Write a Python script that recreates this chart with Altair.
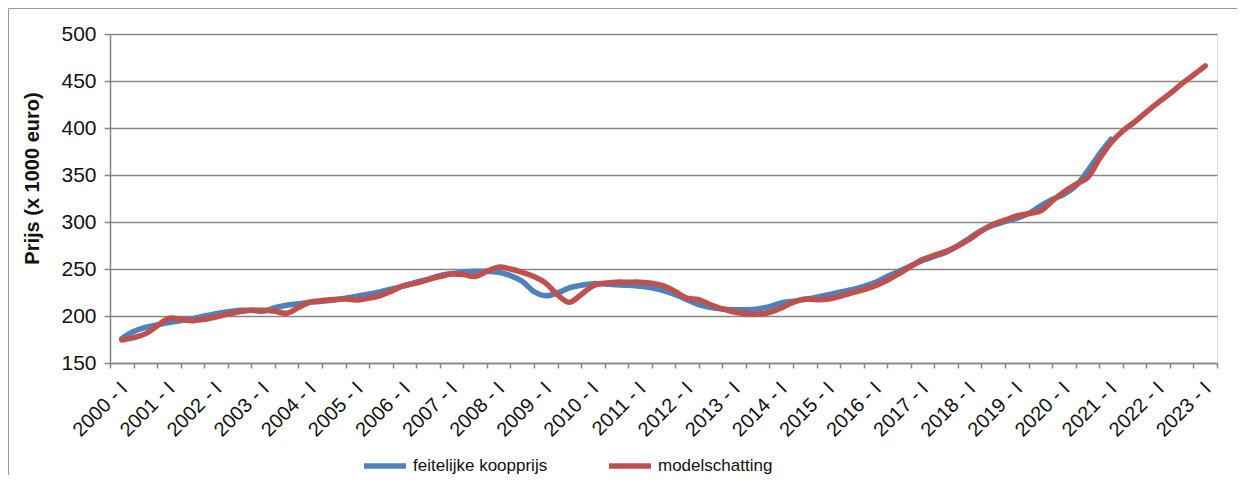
import altair as alt
import pandas as pd

# quarterly index 0 = 2000-I ... 92 = 2023-I
feitelijke = [176, 183.5, 188, 190.5, 193, 195, 197, 200, 202.5, 204.5, 206, 206, 205, 209, 211.5, 213,
              214.7, 215.7, 217, 219, 221, 223.4, 226, 229, 232, 236, 239, 243, 245, 246.5, 247.5, 247.5,
              246.5, 243, 237, 226, 221.6, 224.5, 230, 232.6, 234.4, 234, 233.3, 232.6, 231.6, 230, 227, 222.7,
              217.4, 212, 209, 207.5, 206.7, 206.7, 207.5, 210, 214, 215.6, 217.4, 220, 222.7, 225.5, 228, 231.6,
              235.8, 242, 247.5, 253.5, 259, 263.5, 267.7, 275, 283, 291, 296.5, 300.4, 304, 309, 317, 324,
              329.4, 338.3, 354, 372, 388]
model = [174.5, 177, 181, 189.5, 197.5, 196.5, 195, 196.5, 199, 202, 204.5, 206, 206, 205, 203, 209,
         214.7, 216.4, 217.5, 218, 217, 219, 222, 227, 232.5, 235, 238.7, 242, 244.7, 244, 242, 247.5,
         252, 250, 246.5, 242, 235, 222.7, 214.5, 222.7, 232, 235, 236, 236, 236, 235, 232, 226,
         219, 217.4, 212, 207.5, 204.3, 202.5, 202, 204, 208.5, 214.5, 218, 217.4, 218, 221, 224.5, 228,
         232.3, 238, 245, 252.8, 260, 264.5, 268.8, 274.5, 281.6, 290.4, 297.5, 302, 306.4, 308.9, 311.7, 322.3,
         332, 340, 347, 366.7, 384.4, 396.8, 406.4, 417, 427, 436.5, 447, 456.4, 466]

series_names = ["feitelijke koopprijs", "modelschatting"]
series_colors = ["#4F81BD", "#C0504D"]
y_ticks = [150, 200, 250, 300, 350, 400, 450, 500]
x_tick_values = list(range(-1, 94, 2))

rows = []
for i, v in enumerate(feitelijke):
    rows.append({"t": i, "v": v, "s": series_names[0]})
for i, v in enumerate(model):
    rows.append({"t": i, "v": v, "s": series_names[1]})
df = pd.DataFrame(rows)

FONT = "Liberation Sans"

x_axis = alt.Axis(
    values=x_tick_values,
    labelExpr="(datum.value + 1) % 4 == 0 ? (2000 + (datum.value + 1) / 4) + ' - I' : ''",
    labelAngle=-45, labelAlign="right", labelBaseline="middle",
    labelOffset=14, labelPadding=17, labelOverlap=False, labelFontSize=20,
    labelFont=FONT, labelColor="#111", tickSize=5, tickColor="#868686", tickWidth=1.5,
    domainColor="#868686", domainWidth=1.5, grid=False, title=None, labelFlush=False,
)
y_axis = alt.Axis(
    values=y_ticks, labelFontSize=21, labelFont=FONT, labelColor="#111", labelPadding=8,
    tickSize=6, tickColor="#868686", tickWidth=1.5, domainColor="#868686", domainWidth=1.5,
    grid=True, gridColor="#868686", gridWidth=1.5,
    title="Prijs (x 1000 euro)", titleFont=FONT, titleFontSize=20, titleFontWeight="bold",
    titleColor="#111", titleX=-78, titleY=144, titleAngle=-90, titleAlign="center",
    titleBaseline="middle",
)

lines = alt.Chart(df).mark_line(strokeWidth=5.5, interpolate="catmull-rom", strokeCap="round",
                                strokeJoin="round").encode(
    x=alt.X("t:Q", scale=alt.Scale(domain=[-1, 93], nice=False, zero=False), axis=x_axis),
    y=alt.Y("v:Q", scale=alt.Scale(domain=[150, 500], nice=False, zero=False), axis=y_axis),
    color=alt.Color("s:N", scale=alt.Scale(domain=series_names, range=series_colors),
                    legend=alt.Legend(orient="none", legendX=251, legendY=408, direction="horizontal",
                                      title=None, symbolType="stroke", symbolSize=1764,
                                      symbolStrokeWidth=5.5, labelFontSize=17, labelFont=FONT,
                                      labelColor="#111", labelOffset=4, columnPadding=50, padding=0)),
    order=alt.Order("t:Q"),
)

border = alt.Chart(pd.DataFrame({"k": [0]})).mark_rect(filled=False, stroke="#9a9a9a", strokeWidth=1).encode(
    x=alt.value(-101.5), x2=alt.value(1300), y=alt.value(-25.5), y2=alt.value(600)
)

chart = alt.layer(border, lines).properties(
    width=1107, height=329,
    padding={"left": 102, "top": 26, "right": 20, "bottom": 112},
    autosize=alt.AutoSizeParams(type="none"),
).configure_view(stroke="#000", strokeWidth=1.5).configure(background="white")

chart.save("out.html", embed_options={"renderer": "svg", "actions": False})
